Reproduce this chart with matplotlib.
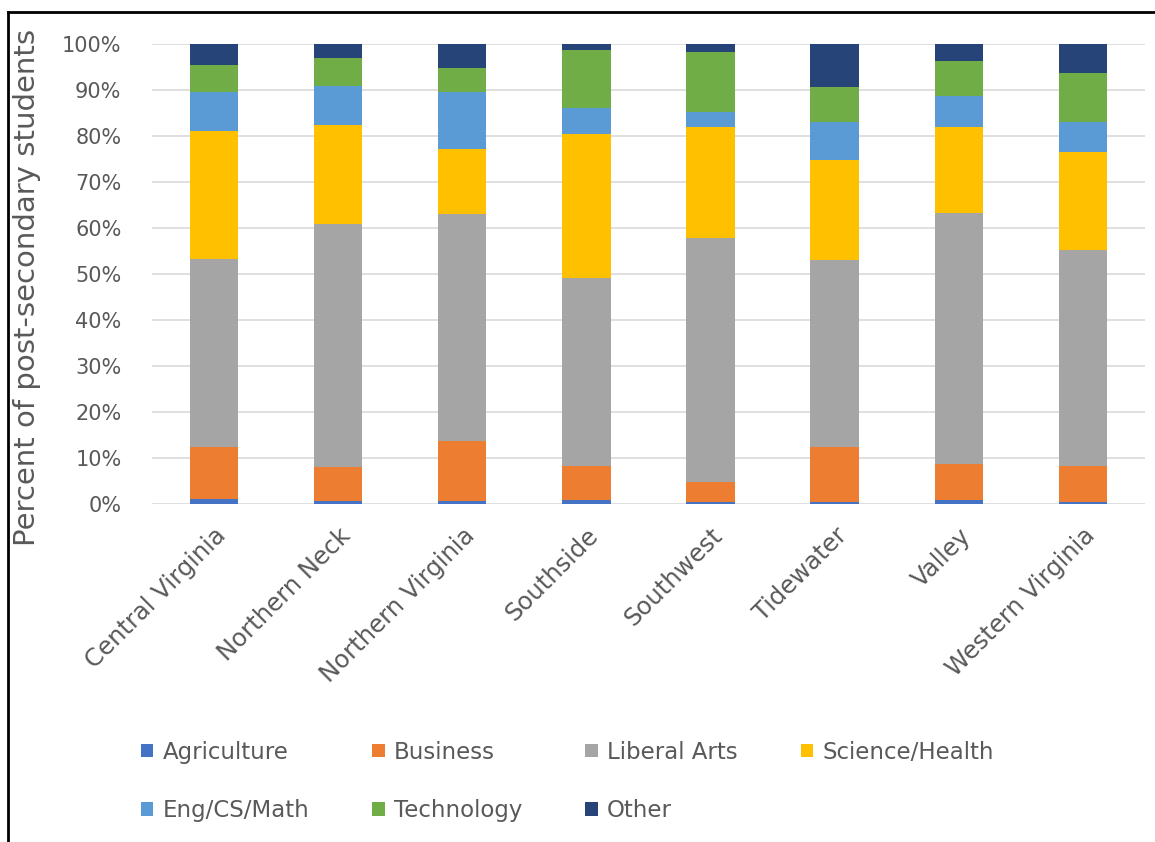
import matplotlib.pyplot as plt
from matplotlib.lines import Line2D
from matplotlib.ticker import PercentFormatter
import numpy as np

# share of post-secondary students by field, per region (percent)
regions = ["Central Virginia", "Northern Neck", "Northern Virginia", "Southside",
           "Southwest", "Tidewater", "Valley", "Western Virginia"]
agriculture = [1.0, 0.6, 0.6, 0.8, 0.5, 0.5, 0.9, 0.5]
business = [11.4, 7.4, 13.1, 7.4, 4.2, 11.8, 7.9, 7.7]
liberal_arts = [40.8, 52.9, 49.3, 40.9, 53.2, 40.8, 54.4, 47.0]
science_health = [28.0, 21.6, 14.2, 31.3, 24.0, 21.7, 18.7, 21.3]
eng_cs_math = [8.4, 8.4, 12.3, 5.8, 3.4, 8.3, 6.9, 6.6]
technology = [5.8, 6.1, 5.3, 12.5, 12.9, 7.5, 7.6, 10.7]
other = [4.6, 3.0, 5.2, 1.3, 1.8, 9.4, 3.6, 6.2]

series = [
    ("Agriculture", agriculture, "#4472C4"),
    ("Business", business, "#ED7D31"),
    ("Liberal Arts", liberal_arts, "#A5A5A5"),
    ("Science/Health", science_health, "#FFC000"),
    ("Eng/CS/Math", eng_cs_math, "#5B9BD5"),
    ("Technology", technology, "#70AD47"),
    ("Other", other, "#264478"),
]

text_col = "#595959"

fig = plt.figure(figsize=(11.55, 8.42), dpi=100)
ax = fig.add_axes([0.1316, 0.4014, 0.8597, 0.5463])

x = np.arange(len(regions))
bottom = np.zeros(len(regions))
handles = []
for name, vals, col in series:
    vals = np.array(vals)
    b = ax.bar(x, vals, width=0.39, bottom=bottom, color=col, label=name, zorder=3)
    handles.append(b)
    bottom += vals

ax.set_xlim(-0.5, len(regions) - 0.5)
ax.set_ylim(0, 100)
ax.set_yticks(np.arange(0, 101, 10))
ax.yaxis.set_major_formatter(PercentFormatter(100, decimals=0))
ax.grid(axis="y", color="#D9D9D9", linewidth=1.2, zorder=0)
for s in ax.spines.values():
    s.set_visible(False)
ax.tick_params(length=0, colors=text_col, labelsize=15)
ax.tick_params(axis="y", pad=22)

ax.set_xticks(x)
ax.set_xticklabels(regions, rotation=45, ha="right", va="top",
                   rotation_mode="anchor", fontsize=17.5, color=text_col)
ax.tick_params(axis="x", pad=14)

ax.set_ylabel("Percent of post-secondary students", fontsize=21, color=text_col)
ax.yaxis.set_label_coords(-0.112, 0.47)

# legend fills column by column, so reorder to read across rows
order = [0, 4, 1, 5, 2, 6, 3]
fig.legend(handles=[handles[i] for i in order], loc="upper left",
           bbox_to_anchor=(0.104, 0.145), ncol=4, frameon=False, fontsize=16.5,
           labelcolor=text_col, handlelength=0.55, handleheight=0.55,
           handletextpad=0.4, columnspacing=2.75, labelspacing=1.55)

# outer frame lines (top and left)
fig.add_artist(Line2D([8 / 1155, 1.0], [1 - 12 / 842, 1 - 12 / 842],
                      transform=fig.transFigure, color="black", linewidth=2))
fig.add_artist(Line2D([8 / 1155, 8 / 1155], [0.0, 1 - 12 / 842],
                      transform=fig.transFigure, color="black", linewidth=2))

fig.savefig("out.png", dpi=100)
